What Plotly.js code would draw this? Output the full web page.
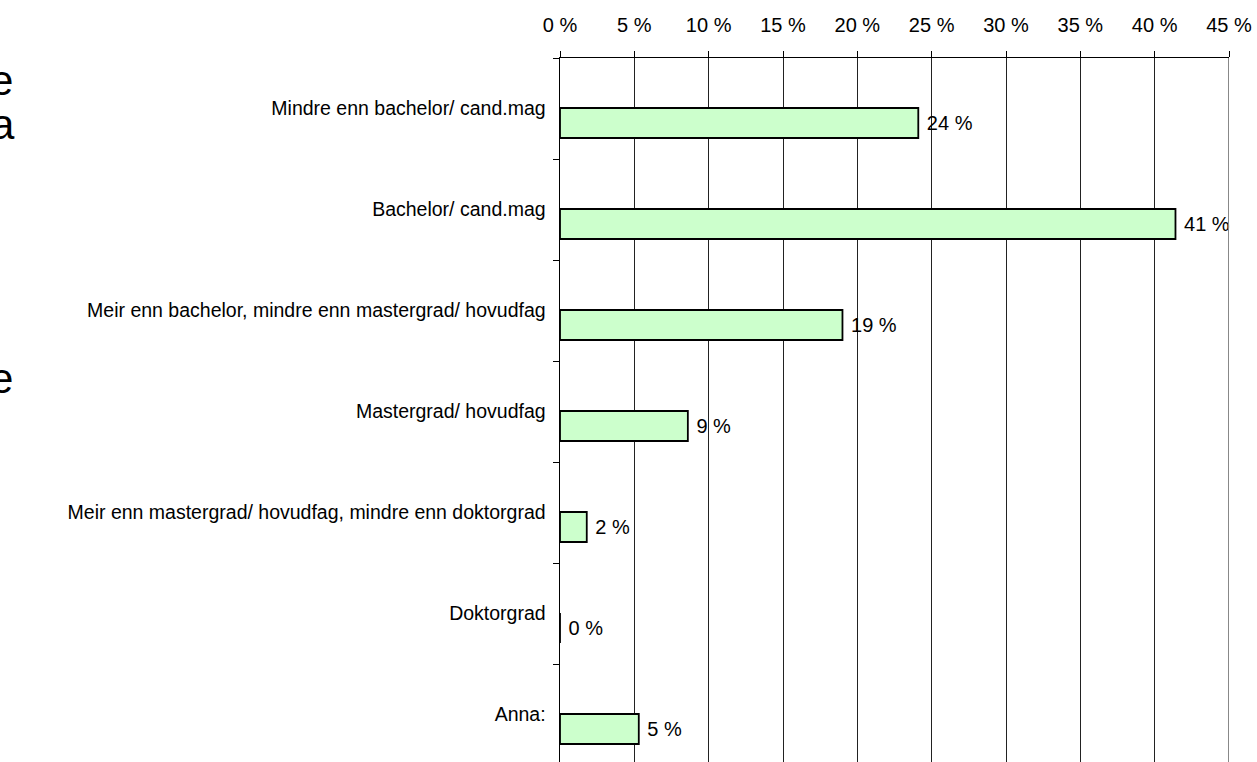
<!DOCTYPE html>
<html>
<head>
<meta charset="utf-8">
<script src="https://cdn.plot.ly/plotly-3.0.1.min.js"></script>
<style>html,body{margin:0;padding:0;background:#fff;}#chart{width:1257px;height:762px;}</style>
</head>
<body>
<div id="chart"></div>
<script>
const categories = [
  "Mindre enn bachelor/ cand.mag",
  "Bachelor/ cand.mag",
  "Meir enn bachelor, mindre enn mastergrad/ hovudfag",
  "Mastergrad/ hovudfag",
  "Meir enn mastergrad/ hovudfag, mindre enn doktorgrad",
  "Doktorgrad",
  "Anna:"
];
const values = [24.1, 41.4, 19.0, 8.6, 1.8, 0, 5.3];
const xTicks = [0, 5, 10, 15, 20, 25, 30, 35, 40, 45];
const xTickLabels = ["0 %", "5 %", "10 %", "15 %", "20 %", "25 %", "30 %", "35 %", "40 %", "45 %"];
const sideFragments = ["e", "a", "e"];

const FONT = "Liberation Sans, Arial, Helvetica, sans-serif";

const trace = {
  type: "bar",
  orientation: "h",
  y: categories,
  x: values,
  width: 0.297,
  offset: -0.005,
  marker: { color: "#ccffcc", line: { color: "#000000", width: 1.8 } },
  texttemplate: "\u00a0%{x:.0f} %",
  textposition: "outside",
  constraintext: "none",
  cliponaxis: false,
  textfont: { family: FONT, size: 20, color: "#000" },
  hoverinfo: "skip"
};

const fragPos = [
  { x: 15, y: 80 },
  { x: 17, y: 124 },
  { x: 15, y: 378 }
];
const plotL = 560, plotW = 669, plotT = 58, plotH = 704;
const annotations = sideFragments.map((t, i) => ({
  text: t,
  xref: "paper", yref: "paper",
  x: (fragPos[i].x - plotL) / plotW,
  y: (plotT + plotH - fragPos[i].y) / plotH,
  xanchor: "right", yanchor: "middle",
  showarrow: false,
  font: { family: FONT, size: 42, color: "#000" }
}));

const layout = {
  width: 1257,
  height: 762,
  margin: { l: plotL, r: 1257 - plotL - plotW, t: plotT, b: 0, pad: 0 },
  paper_bgcolor: "#fff",
  plot_bgcolor: "#fff",
  showlegend: false,
  font: { family: FONT, color: "#000" },
  xaxis: {
    side: "top",
    range: [0, 45],
    tickmode: "array",
    tickvals: xTicks,
    ticktext: xTickLabels,
    ticks: "outside",
    ticklen: 6,
    tickcolor: "#000",
    tickfont: { family: FONT, size: 20, color: "#000" },
    ticklabelstandoff: 11,
    showgrid: true,
    gridcolor: "#222",
    gridwidth: 1,
    zeroline: false,
    showline: true,
    linecolor: "#000",
    linewidth: 1.5,
    fixedrange: true
  },
  yaxis: {
    type: "category",
    categoryorder: "array",
    categoryarray: categories,
    range: [6.47, -0.5],
    tickson: "boundaries",
    ticks: "outside",
    ticklen: 6,
    tickcolor: "#000",
    tickfont: { family: FONT, size: 19.5, color: "#000" },
    ticklabelstandoff: 9,
    showgrid: false,
    zeroline: false,
    showline: true,
    linecolor: "#000",
    linewidth: 1.5,
    fixedrange: true
  },
  shapes: [{
    type: "line", xref: "x", yref: "paper",
    x0: 45, x1: 45, y0: 0, y1: 1,
    line: { color: "#888", width: 2 }
  }],
  annotations: annotations
};

Plotly.newPlot("chart", [trace], layout, { displayModeBar: false, staticPlot: true });
</script>
</body>
</html>
